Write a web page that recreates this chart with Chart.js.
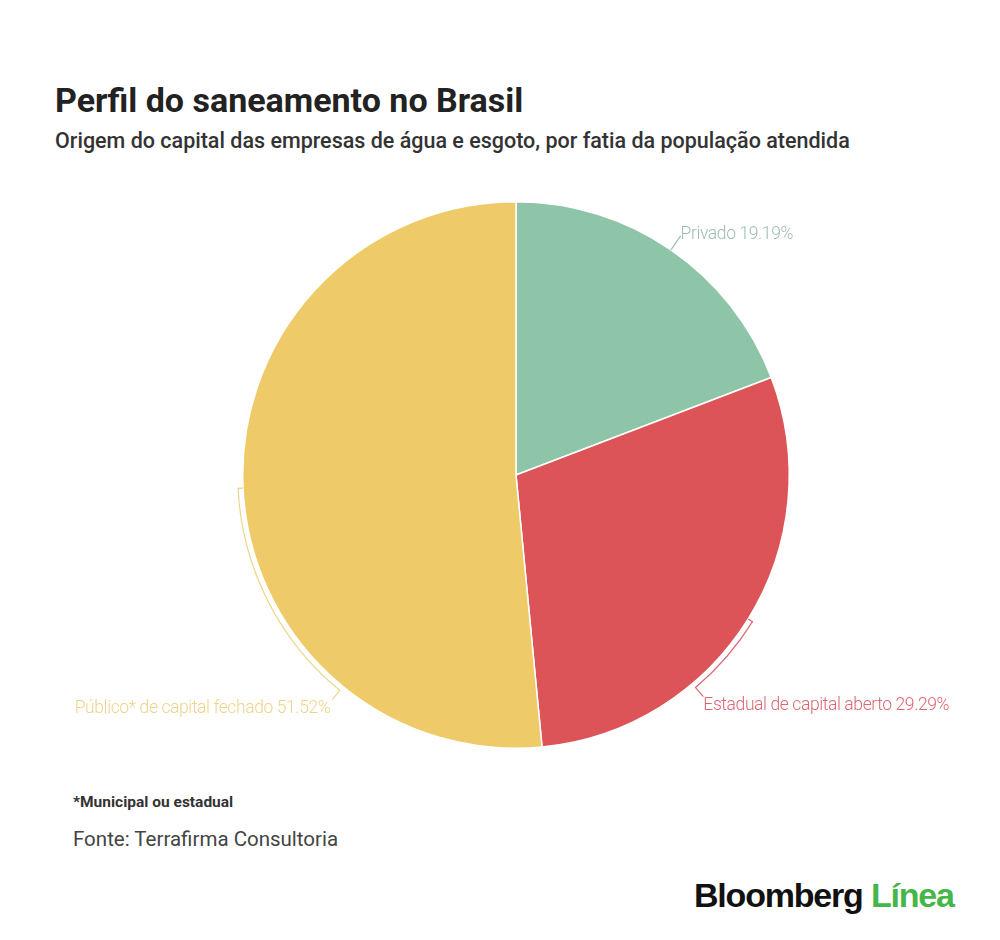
<!DOCTYPE html>
<html>
<head>
<meta charset="utf-8">
<script src="https://cdn.jsdelivr.net/npm/chart.js@4.4.0/dist/chart.umd.min.js"></script>
<style>
  body { margin: 0; background: #fff; width: 1000px; height: 940px; overflow: hidden; position: relative; font-family: Roboto, sans-serif; }
  .t { position: absolute; white-space: nowrap; line-height: 1; }
  #title { left: 55px; top: 83px; font-size: 34px; font-weight: 700; color: #222; }
  #sub { left: 55px; top: 130px; font-size: 21.5px; font-weight: 500; color: #333; }
  #note { left: 73px; top: 795px; font-size: 15.5px; font-weight: 700; color: #333; }
  #src { left: 73px; top: 829px; font-size: 20.5px; font-weight: 400; color: #444; }
  #logo { left: 694px; top: 878px; font-family: "Liberation Sans", Arial, sans-serif; font-size: 34px; font-weight: 700; color: #111; letter-spacing: -1.2px; }
  #logo span { color: #45b649; }
  #wrap { position: absolute; left: 0; top: 201px; width: 1000px; height: 548px; }
</style>
</head>
<body>
<div class="t" id="title">Perfil do saneamento no Brasil</div>
<div class="t" id="sub">Origem do capital das empresas de água e esgoto, por fatia da população atendida</div>
<div class="t" id="note">*Municipal ou estadual</div>
<div class="t" id="src">Fonte: Terrafirma Consultoria</div>
<div class="t" id="logo">Bloomberg <span>Línea</span></div>
<div id="wrap"><canvas id="myChart"></canvas></div>
<script>
const ctx = document.getElementById('myChart');

const labels = ['Privado', 'Estadual de capital aberto', 'Público* de capital fechado'];
const shares = [19.19, 29.29, 51.52];
const colors = ['#8ec4a7', '#dc5457', '#efca69'];
const labelColors = ['#9dbfae', '#dd6670', '#eed38a'];

// leader lines: how far (degrees) the bracket runs along the edge from the slice middle
const leaderSweep = [0, 18, -48];

const leaders = {
  id: 'leaders',
  afterDatasetsDraw(chart) {
    const c = chart.ctx;
    const arcs = chart.getDatasetMeta(0).data;
    arcs.forEach((arc, i) => {
      const { x, y, startAngle, endAngle, outerRadius } = arc.getProps(['x', 'y', 'startAngle', 'endAngle', 'outerRadius'], true);
      const mid = (startAngle + endAngle) / 2;
      const end = mid + leaderSweep[i] * Math.PI / 180;
      const r1 = outerRadius + 5;
      const r2 = outerRadius + 17;
      c.save();
      c.strokeStyle = labelColors[i];
      c.lineWidth = 1.2;
      c.beginPath();
      if (leaderSweep[i] === 0) {
        c.moveTo(x + outerRadius * Math.cos(mid), y + outerRadius * Math.sin(mid));
        c.lineTo(x + r2 * Math.cos(mid), y + r2 * Math.sin(mid));
      } else {
        c.moveTo(x + outerRadius * Math.cos(mid), y + outerRadius * Math.sin(mid));
        c.lineTo(x + r1 * Math.cos(mid), y + r1 * Math.sin(mid));
        c.arc(x, y, r1, mid, end, leaderSweep[i] < 0);
        c.lineTo(x + r2 * Math.cos(end), y + r2 * Math.sin(end));
      }
      c.stroke();
      const tx = x + r2 * Math.cos(end);
      const ty = y + r2 * Math.sin(end);
      const right = Math.cos(end) >= 0;
      const lower = Math.sin(end) > 0.3;
      c.fillStyle = labelColors[i];
      c.font = '300 17.5px Roboto';
      c.letterSpacing = '-0.4px';
      c.textAlign = right ? 'left' : 'right';
      c.textBaseline = lower ? 'top' : 'middle';
      c.fillText(labels[i] + ' ' + shares[i].toFixed(2) + '%', tx + (right ? 0 : -2), ty + (lower ? 0 : -1));
      c.restore();
    });
  }
};

new Chart(ctx, {
  type: 'pie',
  data: {
    labels: labels,
    datasets: [{
      data: shares,
      backgroundColor: colors,
      borderColor: '#ffffff',
      borderWidth: 1.5,
      hoverOffset: 0
    }]
  },
  options: {
    responsive: true,
    maintainAspectRatio: false,
    animation: false,
    layout: { padding: { left: 32 } },
    plugins: {
      legend: { display: false },
      tooltip: { enabled: false }
    }
  },
  plugins: [leaders]
});
</script>
</body>
</html>
